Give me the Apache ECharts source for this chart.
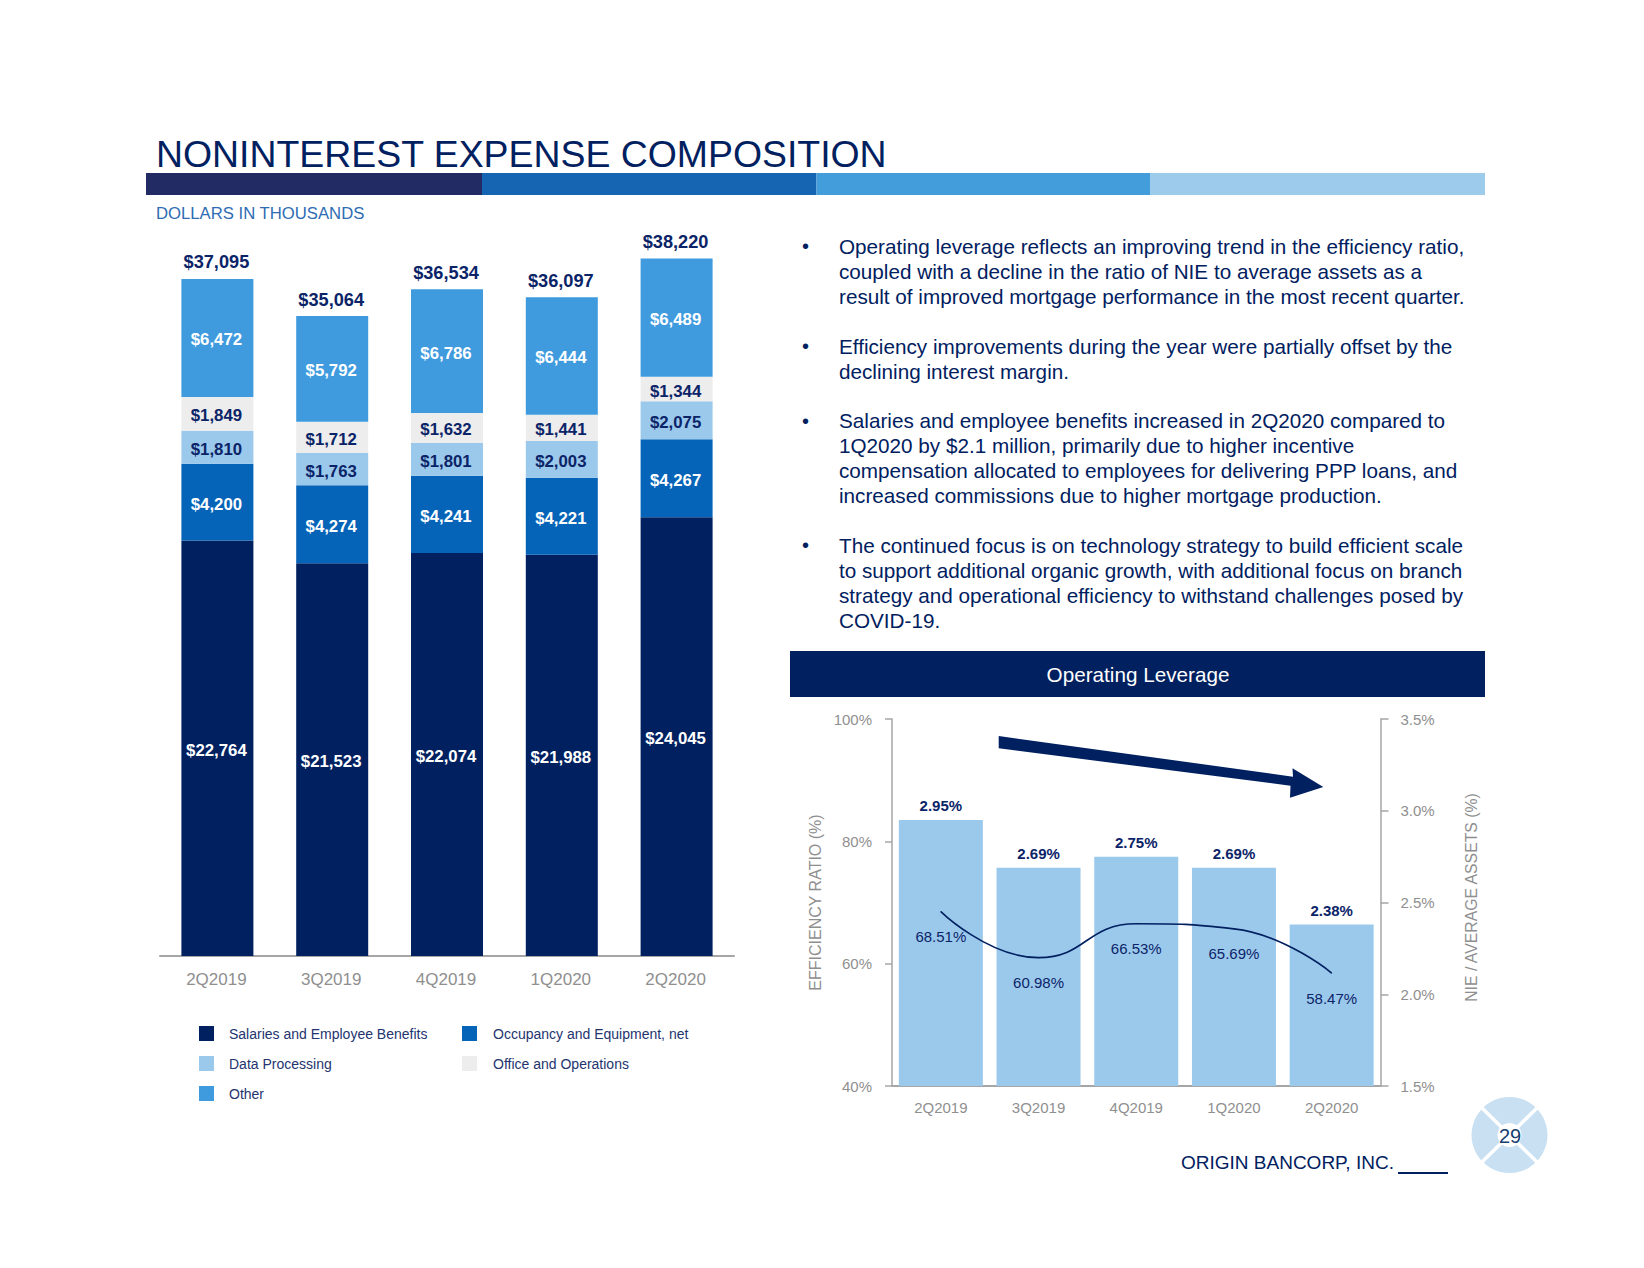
<!DOCTYPE html>
<html><head><meta charset="utf-8">
<style>html,body{margin:0;padding:0;background:#fff}#c{width:1644px;height:1268px}</style>
<script src="https://cdn.jsdelivr.net/npm/echarts@6/dist/echarts.min.js"></script>
</head><body><div id="c"></div>
<script>
const quarters = ['2Q2019','3Q2019','4Q2019','1Q2020','2Q2020'];
const salaries = [22764,21523,22074,21988,24045];
const occupancy = [4200,4274,4241,4221,4267];
const dataProcessing = [1810,1763,1801,2003,2075];
const officeOps = [1849,1712,1632,1441,1344];
const other = [6472,5792,6786,6444,6489];
const totals = [37095,35064,36534,36097,38220];
const nieAssets = [2.95,2.69,2.75,2.69,2.38];
const efficiency = [68.51,60.98,66.53,65.69,58.47];
const bulletParagraphs = [
 ['Operating leverage reflects an improving trend in the efficiency ratio,','coupled with a decline in the ratio of NIE to average assets as a','result of improved mortgage performance in the most recent quarter.'],
 ['Efficiency improvements during the year were partially offset by the','declining interest margin.'],
 ['Salaries and employee benefits increased in 2Q2020 compared to','1Q2020 by $2.1 million, primarily due to higher incentive','compensation allocated to employees for delivering PPP loans, and','increased commissions due to higher mortgage production.'],
 ['The continued focus is on technology strategy to build efficient scale','to support additional organic growth, with additional focus on branch','strategy and operational efficiency to withstand challenges posed by','COVID-19.']
];
const paragraphTops = [246,346,420.5,545];

const FONT='"Liberation Sans",Arial,sans-serif', NAVY='#002060', GREY='#8f8f8f', AXIS='#a6a6a6';
const money = p => '$'+p.value.toLocaleString('en-US');
function stacked(name,data,color,labelColor){
  return {type:'bar',name,data,stack:'exp',xAxisIndex:0,yAxisIndex:0,barWidth:72,
    itemStyle:{color},
    label:{show:true,position:'inside',offset:[-1,2],formatter:money,color:labelColor,fontFamily:FONT,fontWeight:'bold',fontSize:16.8}};
}
function txt(text,x,y,fontSize,fill,extra){
  return {type:'text',x,y,silent:true,style:Object.assign({text,fontSize,fontFamily:FONT,fill,textVerticalAlign:'middle'},extra||{})};
}
const graphics=[];
graphics.push(txt('NONINTEREST EXPENSE COMPOSITION',156,153.5,37.4,NAVY));
[['#222B64',146,336],['#1565B2',482,334.5],['#439DDB',816.5,333.5],['#9CCBEC',1150,335]].forEach(b=>{
  graphics.push({type:'rect',silent:true,shape:{x:b[1],y:173,width:b[2],height:22},style:{fill:b[0]}});
});
graphics.push(txt('DOLLARS IN THOUSANDS',156,213,16.7,'#2E6CB3'));
bulletParagraphs.forEach((lines,i)=>{
  graphics.push(txt('•',802,paragraphTops[i],20,NAVY));
  lines.forEach((l,j)=>graphics.push(txt(l,839,paragraphTops[i]+j*25,20.7,NAVY)));
});
graphics.push({type:'rect',silent:true,shape:{x:790,y:651,width:695,height:46},style:{fill:NAVY}});
graphics.push(txt('Operating Leverage',1138,674.5,20.7,'#ffffff',{textAlign:'center'}));
graphics.push({type:'polygon',silent:true,z:10,shape:{points:[[998.7,736],[1293,776.7],[1292.5,768.3],[1323.3,787],[1290,797.7],[1290.5,785.7],[998.7,748.3]]},style:{fill:NAVY}});
graphics.push(txt('ORIGIN BANCORP, INC.',1181,1162.5,19,NAVY));
graphics.push({type:'rect',silent:true,shape:{x:1398,y:1172,width:50,height:2},style:{fill:NAVY}});
graphics.push({type:'circle',silent:true,shape:{cx:1509.5,cy:1135,r:38},style:{fill:'#C8E0F2'}});
graphics.push({type:'line',silent:true,shape:{x1:1482,y1:1108,x2:1537,y2:1162},style:{stroke:'#fff',lineWidth:3.5}});
graphics.push({type:'line',silent:true,shape:{x1:1537,y1:1108,x2:1482,y2:1162},style:{stroke:'#fff',lineWidth:3.5}});
graphics.push({type:'circle',silent:true,shape:{cx:1509.5,cy:1135,r:12},style:{fill:'#fff'}});
graphics.push(txt('29',1510,1135.5,20,'#17406F',{textAlign:'center'}));

const legendNames=[['Salaries and Employee Benefits',199,1026],['Occupancy and Equipment, net',462,1026],['Data Processing',199,1056],['Office and Operations',462,1056],['Other',199,1086]];

const option={
  animation:false,backgroundColor:'#fff',
  textStyle:{fontFamily:FONT},
  graphic:graphics,
  legend:legendNames.map((l,i)=>({data:[l[0]],left:l[1],top:l[2],padding:0,itemWidth:15,itemHeight:15,selectedMode:false,
    textStyle:{fontFamily:FONT,fontSize:14,color:'#24346F',padding:[0,0,0,l[1]===199?10:11]},icon:'rect'})),
  grid:[{left:160,top:225,width:574,height:731},{left:892,top:719,width:488.5,height:367}],
  xAxis:[
    {type:'category',gridIndex:0,data:quarters,axisLine:{lineStyle:{color:AXIS,width:2}},axisTick:{alignWithLabel:true,length:8,lineStyle:{color:AXIS,width:1.5}},
     axisLabel:{color:GREY,fontSize:17,margin:15,padding:[0,2,0,0],fontFamily:FONT}},
    {type:'category',gridIndex:1,data:quarters,axisLine:{lineStyle:{color:AXIS,width:2}},axisTick:{alignWithLabel:true,length:8,lineStyle:{color:AXIS,width:1.5}},
     axisLabel:{color:GREY,fontSize:15,margin:14,fontFamily:FONT}}
  ],
  yAxis:[
    {type:'value',gridIndex:0,show:false,min:0,max:40050,splitLine:{show:false}},
    {type:'value',gridIndex:1,position:'left',min:40,max:100,interval:20,splitLine:{show:false},
     axisLine:{show:true,lineStyle:{color:AXIS,width:1.5}},axisTick:{show:true,length:7,lineStyle:{color:AXIS,width:1.5}},
     axisLabel:{color:GREY,fontSize:15,margin:20,padding:[4,0,0,0],formatter:'{value}%',fontFamily:FONT},
     name:'EFFICIENCY RATIO (%)',nameLocation:'middle',nameGap:69,nameRotate:90,nameTextStyle:{color:GREY,fontSize:16,fontFamily:FONT}},
    {type:'value',gridIndex:1,position:'right',min:1.5,max:3.5,interval:0.5,splitLine:{show:false},
     axisLine:{show:true,lineStyle:{color:AXIS,width:1.5}},axisTick:{show:true,length:8,lineStyle:{color:AXIS,width:1.5}},
     axisLabel:{color:GREY,fontSize:15,margin:20,padding:[4,0,0,0],formatter:v=>v.toFixed(1)+'%',fontFamily:FONT},
     name:'NIE / AVERAGE ASSETS (%)',nameLocation:'middle',nameGap:83,nameRotate:90,nameTextStyle:{color:GREY,fontSize:15.8,fontFamily:FONT,padding:[0,0,0,10]}}
  ],
  series:[
    stacked('Salaries and Employee Benefits',salaries,'#002060','#ffffff'),
    stacked('Occupancy and Equipment, net',occupancy,'#0563B8','#ffffff'),
    stacked('Data Processing',dataProcessing,'#9BC9EC','#0B2468'),
    stacked('Office and Operations',officeOps,'#EDEDED','#0B2468'),
    stacked('Other',other,'#3F9BDE','#ffffff'),
    {type:'line',name:'Total',data:totals,xAxisIndex:0,yAxisIndex:0,symbol:'circle',symbolSize:1,itemStyle:{color:'rgba(0,0,0,0)'},lineStyle:{opacity:0},
     label:{show:true,position:'top',distance:7,offset:[-1,0],formatter:money,color:'#0B2468',fontFamily:FONT,fontWeight:'bold',fontSize:18.2}},
    {type:'bar',name:'NIE / Average Assets',data:nieAssets,xAxisIndex:1,yAxisIndex:2,barWidth:84,itemStyle:{color:'#9BC9EC'},
     label:{show:true,position:'top',distance:7,color:'#0B2468',fontFamily:FONT,fontWeight:'bold',fontSize:15,formatter:p=>p.value.toFixed(2)+'%'}},
    {type:'line',name:'Efficiency Ratio',data:efficiency,xAxisIndex:1,yAxisIndex:1,smooth:0.5,symbol:'circle',symbolSize:1,z:5,
     itemStyle:{color:NAVY},lineStyle:{color:NAVY,width:1.6},
     label:{show:true,position:'bottom',distance:17,color:'#0B2468',fontFamily:FONT,fontSize:15,formatter:p=>p.value.toFixed(2)+'%'}}
  ]
};
const chart=echarts.init(document.getElementById('c'),null,{renderer:'svg'});
chart.setOption(option);
</script></body></html>
